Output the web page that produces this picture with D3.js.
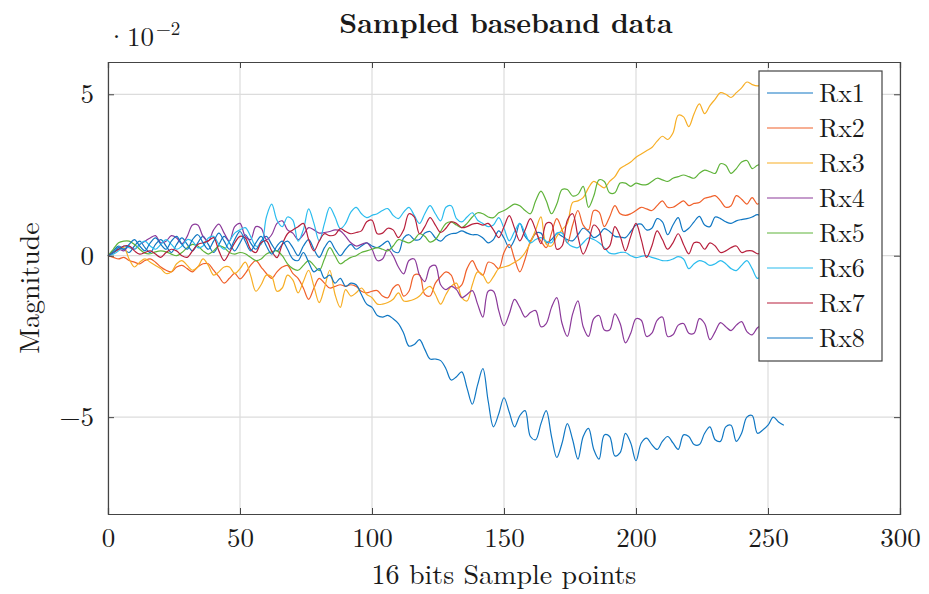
<!DOCTYPE html>
<html>
<head>
<meta charset="utf-8">
<script src="https://cdn.jsdelivr.net/npm/d3@7"></script>
<style>
  body { margin: 0; background: #fff; }
  text { font-family: "Latin Modern Roman", "CMU Serif", "Liberation Serif", serif; fill: #1a1a1a; }
</style>
</head>
<body>
<div id="chart"></div>
<script>
"use strict";

// === Data (values in units of 1e-2, one sample every 2 points) ===
const sampleIdx = d3.range(0, 257, 2);

const rx1 = [
  0, 0.15, 0.3, 0.2, 0.1, 0.3, 0.45, 0.25, 0.1, 0.35,
  0.5, 0.3, 0.1, 0.35, 0.55, 0.35, 0.15, 0.4, 0.6, 0.35,
  0.1, 0.35, 0.6, 0.4, 0.15, 0.4, 0.65, 0.4, 0.2, 0.45,
  0.6, 0.35, 0.15, 0.35, 0.45, 0.25, 0.0, 0.3, 0.5, 0.2,
  -0.05, 0.25, 0.45, 0.2, 0.0, 0.2, 0.35, 0.2, 0.3, 0.4,
  0.3, 0.25, 0.35, 0.45, 0.15, 0.1, 0.55, 0.65, 0.5, 0.5,
  0.7, 0.75, 0.55, 0.45, 0.6, 0.68, 0.7, 0.77, 0.7, 0.65,
  0.65, 0.55, 0.4, 0.5, 0.77, 0.55, 0.25, 0.5, 1.0, 0.6,
  0.45, 0.7, 0.7, 0.4, 0.5, 0.68, 0.6, 0.5, 0.46, 0.65,
  0.85, 0.75, 0.56, 0.65, 0.84, 0.75, 0.6, 0.58, 0.56, 0.75,
  0.95, 0.98, 0.8, 0.85, 1.15, 1.05, 0.65, 0.95, 1.18, 0.75,
  0.85, 1.05, 1.22, 0.95, 0.9, 1.2, 1.15, 1.05, 1.0, 1.08,
  1.12, 1.15, 1.2, 1.27, 1.2, 1.25, 1.3, 1.28, 1.3
];

const rx2 = [
  0, -0.05, -0.1, -0.05, -0.15, -0.2, -0.25, -0.15, -0.1, -0.2,
  -0.35, -0.45, -0.5, -0.35, -0.3, -0.4, -0.5, -0.35, -0.25, -0.25,
  -0.45, -0.65, -0.85, -0.7, -0.55, -0.72, -0.55, -0.3, -0.15, -0.35,
  -0.55, -0.7, -0.5, -0.35, -0.3, -0.55, -0.7, -1.0, -1.35, -1.0,
  -0.7, -0.85, -1.0, -0.95, -0.9, -0.95, -0.9, -0.95, -1.1, -1.15,
  -1.1, -1.08, -1.25, -1.3, -1.0, -0.9, -1.25, -1.1, -0.6, -0.6,
  -1.2, -1.25, -0.85, -0.65, -0.5, -0.6, -1.0, -0.9, -0.4, -0.15,
  -0.45, -0.6, -0.2, -0.25, -0.4, 0.1, 0.35, -0.1, -0.5, -0.1,
  0.45, 0.68, 0.45, 0.25, 0.7, 1.15, 0.8, 0.4, 0.95, 1.4,
  0.95, 0.8, 1.4, 1.35, 0.9, 1.2, 1.55, 1.3, 1.25, 1.3,
  1.4, 1.5, 1.45, 1.4, 1.55, 1.7, 1.5, 1.5, 1.6, 1.7,
  1.55, 1.62, 1.65, 1.78, 1.82, 1.86, 1.7, 1.5, 1.55, 1.86,
  1.75, 1.6, 1.8, 1.6, 1.7, 1.75, 1.7, 1.65, 1.7
];

const rx3 = [
  0, 0.1, 0.2, 0.25, -0.1, -0.35, -0.2, -0.1, -0.2, -0.3,
  -0.4, -0.55, -0.5, -0.25, -0.15, -0.3, -0.45, -0.35, -0.1, -0.3,
  -0.6, -0.5, -0.35, -0.35, -0.55, -0.4, -0.2, -0.6, -1.1, -0.9,
  -0.6, -0.65, -1.1, -1.0, -0.6, -0.75, -1.15, -0.8, -0.45, -0.95,
  -1.45, -1.0, -0.45, -1.2, -1.6, -1.05, -1.25, -1.15, -1.0, -1.2,
  -1.3, -1.5, -1.5, -1.45, -1.35, -1.15, -1.4, -1.4, -1.35, -1.25,
  -1.05, -0.95, -1.2, -1.5, -1.2, -0.95, -0.85, -1.3, -1.4, -0.9,
  -0.5, -0.6, -0.85, -0.65, -0.4, -0.35, -0.3, -0.2, -0.1, 0.1,
  0.4, 0.8, 1.2, 0.35, 0.3, 0.6, 0.8, 1.0, 1.65, 1.7,
  1.8, 2.1, 2.3, 2.2, 2.1, 2.3, 2.45, 2.7, 2.8, 2.9,
  3.05, 3.15, 3.25, 3.35, 3.55, 3.7, 3.6, 3.8, 4.35, 4.3,
  4.0, 4.4, 4.7, 4.4, 4.65, 4.85, 5.05, 5.0, 4.9, 5.05,
  5.2, 5.38, 5.3, 5.26, 5.3, 5.35, 5.4, 5.35, 5.4
];

const rx4 = [
  0, 0.1, 0.2, 0.15, 0.3, 0.2, 0.35, 0.45, 0.55, 0.62,
  0.4, 0.45, 0.62, 0.55, 0.37, 0.6, 0.95, 0.95, 0.6, 0.46,
  0.8, 0.98, 0.7, 0.46, 0.9, 1.0, 0.6, 0.5, 0.9, 0.85,
  0.5, 0.65, 1.0, 1.08, 0.8, 0.7, 0.5, 0.65, 0.87, 0.8,
  0.7, 0.72, 0.75, 0.8, 0.77, 0.6, 0.4, 0.3, 0.35, 0.4,
  0.2, -0.15, -0.1, 0.2, 0.0, -0.35, -0.56, -0.15, -0.1, -0.6,
  -0.8, -0.35, -0.3, -0.9, -1.05, -0.95, -1.05, -1.3, -1.2, -1.08,
  -1.5, -1.9, -1.1, -1.1, -1.7, -2.17, -1.8, -1.35, -1.6, -1.9,
  -1.76, -1.7, -2.2, -2.1, -1.6, -1.3, -2.1, -2.5, -1.8, -1.4,
  -2.2, -2.5, -1.95, -1.85, -2.3, -2.3, -1.8, -2.1, -2.7, -2.4,
  -1.95, -2.0, -2.5, -2.4, -2.0, -1.9, -2.5, -2.45, -2.15, -2.1,
  -2.4, -2.4, -1.95, -2.1, -2.6, -2.35, -2.07, -2.2, -2.32, -2.15,
  -2.04, -2.35, -2.45, -2.23, -2.15, -2.3, -2.35, -2.2, -2.2
];

const rx5 = [
  0, 0.2, 0.4, 0.45, 0.45, 0.35, 0.2, 0.08, 0.06, 0.12,
  0.15, 0.12, 0.05, 0.0, 0.1, 0.25, 0.35, 0.3, 0.15, 0.05,
  0.15, 0.3, 0.25, 0.1, 0.05, 0.1, 0.06, -0.05, -0.15, -0.1,
  0.05, 0.12, 0.15, 0.0, -0.25, -0.4, -0.45, -0.3, -0.15, -0.3,
  -0.46, -0.1, 0.25, 0.0, -0.25, -0.15, -0.05, 0.0, 0.1, 0.15,
  0.2, 0.25, 0.2, 0.15, 0.3, 0.5, 0.45, 0.4, 0.5, 0.68,
  0.6, 0.42, 0.5, 0.75, 1.0, 1.05, 0.95, 0.87, 1.0, 1.2,
  1.33, 1.3, 1.2, 1.18, 1.33, 1.4, 1.5, 1.6, 1.55, 1.4,
  1.3, 1.7, 2.0, 1.7, 1.3, 1.6, 2.05, 2.05, 1.85, 1.9,
  2.15, 1.5, 1.85, 2.35, 2.3, 1.95, 1.95, 2.25, 2.25, 2.15,
  2.25, 2.2, 2.2, 2.3, 2.4, 2.35, 2.3, 2.4, 2.45, 2.5,
  2.45, 2.4, 2.55, 2.65, 2.6, 2.55, 2.85, 2.8, 2.55, 2.7,
  2.9, 2.95, 2.7, 2.8, 2.85, 2.8, 2.75, 2.8, 2.8
];

const rx6 = [
  0, 0.05, 0.15, 0.3, 0.25, 0.2, 0.35, 0.45, 0.3, 0.2,
  0.35, 0.5, 0.35, 0.2, 0.3, 0.5, 0.45, 0.25, 0.3, 0.55,
  0.6, 0.35, 0.2, 0.45, 0.7, 0.8, 0.87, 0.6, 0.3, 0.35,
  1.2, 1.6, 1.1, 0.9, 1.2, 1.1, 0.45, 0.8, 1.45, 1.0,
  0.46, 1.0, 1.5, 1.2, 0.84, 1.0, 1.35, 1.5, 1.3, 1.18,
  1.25, 1.3, 1.4, 1.46, 1.25, 1.15, 1.35, 1.5, 1.25, 1.0,
  1.3, 1.55, 1.3, 1.08, 1.5, 1.55, 1.15, 1.05, 1.2, 1.33,
  1.1, 1.0, 0.9, 0.95, 1.18, 0.85, 0.46, 0.75, 1.0, 0.7,
  0.4, 0.5, 0.56, 0.45, 0.4, 0.7, 0.7, 0.4, 0.28, 0.25,
  0.4, 0.55, 0.5, 0.4, 0.25, 0.08, 0.06, 0.1, 0.1, 0.0,
  -0.06, -0.02, 0.0, -0.05, -0.1, -0.15, -0.15, -0.1, -0.03, -0.1,
  -0.4, -0.25, -0.15, -0.2, -0.3, -0.25, -0.15, -0.25, -0.4, -0.46,
  -0.3, -0.15, -0.4, -0.7, -0.6, -0.5, -0.55, -0.6, -0.6
];

const rx7 = [
  0, 0.1, 0.2, 0.3, 0.3, 0.15, 0.05, 0.1, 0.15, 0.05,
  -0.05, 0.1, 0.2, 0.15, 0.0, -0.05, 0.15, 0.35, 0.4, 0.46,
  0.56, 0.15, -0.15, 0.1, 0.4, 0.6, 0.55, 0.2, 0.1, 0.4,
  0.46, 0.15, -0.06, 0.35, 0.68, 0.8, 0.9, 1.0, 0.5, 0.15,
  0.45, 0.68, 0.62, 0.65, 0.84, 0.75, 0.68, 0.72, 0.77, 1.05,
  1.1, 0.68, 0.7, 0.85, 0.8, 0.56, 0.8, 1.3, 1.2, 0.68,
  0.9, 1.18, 0.95, 0.72, 0.85, 1.05, 1.0, 0.87, 0.9, 0.98,
  1.0, 0.95, 1.0, 0.8, 0.56, 0.9, 1.24, 0.85, 0.46, 0.8,
  1.15, 0.8, 0.37, 1.0, 1.0, 0.2, 0.3, 1.1, 1.3, 0.6,
  0.05, 0.4, 0.95, 0.8, 0.2, 0.3, 0.9, 0.6, 0.15, 0.6,
  1.0, 0.5, -0.05, 0.3, 0.77, 0.5, 0.2, 0.4, 0.68, 0.35,
  0.06, 0.4, 0.4, 0.2, 0.4, 0.3, 0.1, 0.15, 0.25, 0.3,
  0.1, 0.15, 0.15, 0.06, 0.1, 0.1, 0.05, 0.1, 0.1
];

const rx8 = [
  0, 0.1, 0.25, 0.2, 0.35, 0.5, 0.3, 0.15, 0.4, 0.55,
  0.35, 0.2, 0.45, 0.6, 0.35, 0.2, 0.5, 0.65, 0.4, 0.2,
  0.45, 0.7, 0.45, 0.2, 0.5, 0.75, 0.45, 0.15, 0.4, 0.6,
  0.3, 0.05, 0.3, 0.45, 0.2, -0.1, -0.15, 0.1, -0.2, -0.5,
  -0.4, -0.7, -0.6, -0.85, -0.7, -0.95, -0.85, -0.9, -1.2, -1.5,
  -1.6, -1.85, -1.9, -1.85, -1.95, -2.1, -2.4, -2.8, -2.75, -2.6,
  -2.9, -3.2, -3.2, -3.25, -3.5, -3.85, -3.75, -3.6, -4.1, -4.6,
  -4.0, -3.5, -4.5, -5.3, -4.9, -4.4, -4.85, -5.3, -4.95, -4.8,
  -5.6, -5.7, -5.2, -4.8, -5.6, -6.25, -5.8, -5.2, -5.7, -6.3,
  -5.6, -5.35, -6.0, -6.3, -5.55, -5.6, -6.2, -6.1, -5.5, -5.8,
  -6.35, -5.8, -5.65, -5.85, -6.0, -5.75, -5.6, -5.8, -6.0, -5.55,
  -5.6, -5.85, -5.85, -5.5, -5.3, -5.7, -5.75, -5.3, -5.25, -5.75,
  -5.5, -5.0, -4.95, -5.5, -5.4, -5.25, -5.0, -5.15, -5.25
];

const seriesNames = ["Rx1", "Rx2", "Rx3", "Rx4", "Rx5", "Rx6", "Rx7", "Rx8"];
const seriesValues = [rx1, rx2, rx3, rx4, rx5, rx6, rx7, rx8];
const seriesColors = ["#1077c3", "#f0602a", "#f7ae25", "#8b3a9a", "#5fb33a", "#2bbcee", "#b71f3c", "#1077c3"];

const xTicks = [0, 50, 100, 150, 200, 250, 300];
const yTicks = [-5, 0, 5];

// === SVG setup ===
const width = 929, height = 594;
const margin = { top: 62, right: 29, bottom: 80, left: 108 };

const svg = d3.select("#chart")
  .append("svg")
  .attr("width", width)
  .attr("height", height);

// === Scales ===
const x = d3.scaleLinear()
  .domain([0, 300])
  .range([margin.left, width - margin.right]);

const y = d3.scaleLinear()
  .domain([-8, 6])
  .range([height - margin.bottom, margin.top]);

// === Grid ===
svg.append("g")
  .selectAll("line")
  .data(xTicks)
  .join("line")
  .attr("x1", d => x(d)).attr("x2", d => x(d))
  .attr("y1", y(-8)).attr("y2", y(6))
  .attr("stroke", "#dcdcdc")
  .attr("stroke-width", 1.2);

svg.append("g")
  .selectAll("line")
  .data(yTicks)
  .join("line")
  .attr("x1", x(0)).attr("x2", x(300))
  .attr("y1", d => y(d)).attr("y2", d => y(d))
  .attr("stroke", "#dcdcdc")
  .attr("stroke-width", 1.2);

// === Lines ===
const line = d3.line()
  .x((d, i) => x(sampleIdx[i]))
  .y(d => y(d))
  .curve(d3.curveCatmullRom.alpha(0.5));

svg.append("g")
  .selectAll("path")
  .data(seriesValues)
  .join("path")
  .attr("d", d => line(d))
  .attr("fill", "none")
  .attr("stroke", (d, i) => seriesColors[i])
  .attr("stroke-width", 1.2)
  .attr("stroke-linejoin", "round");

// === Axes (box with inward ticks) ===
const tickLen = 6;
const axisColor = "#444";

const axisB = svg.append("g")
  .attr("transform", `translate(0, ${y(-8)})`)
  .call(d3.axisBottom(x).tickValues(xTicks).tickSize(-tickLen).tickPadding(14));
const axisT = svg.append("g")
  .attr("transform", `translate(0, ${y(6)})`)
  .call(d3.axisTop(x).tickValues(xTicks).tickSize(-tickLen).tickFormat(""));
const axisL = svg.append("g")
  .attr("transform", `translate(${x(0)}, 0)`)
  .call(d3.axisLeft(y).tickValues(yTicks).tickSize(-tickLen).tickPadding(14)
    .tickFormat(d => d < 0 ? "\u2212" + Math.abs(d) : d));
const axisR = svg.append("g")
  .attr("transform", `translate(${x(300)}, 0)`)
  .call(d3.axisRight(y).tickValues(yTicks).tickSize(-tickLen).tickFormat(""));

[axisB, axisT, axisL, axisR].forEach(g => {
  g.select(".domain").attr("stroke", axisColor).attr("stroke-width", 1.2);
  g.selectAll(".tick line").attr("stroke", axisColor).attr("stroke-width", 1);
  g.selectAll(".tick text")
    .attr("font-family", "'Latin Modern Roman', 'Liberation Serif', serif")
    .attr("font-size", 27)
    .attr("fill", "#1a1a1a");
});

// === Multiplier (·10^-2), title, labels ===
svg.append("text")
  .attr("x", 127)
  .attr("y", 46)
  .attr("text-anchor", "end")
  .attr("font-size", 27)
  .text("\u00b7");
const mult = svg.append("text")
  .attr("x", 127)
  .attr("y", 46)
  .attr("font-size", 27)
  .text("10");
mult.append("tspan")
  .attr("dx", 2)
  .attr("dy", -11)
  .attr("font-size", 19)
  .text("\u22122");

svg.append("text")
  .attr("x", (x(0) + x(300)) / 2 + 2)
  .attr("y", 33)
  .attr("text-anchor", "middle")
  .attr("font-size", 28)
  .attr("font-weight", "bold")
  .text("Sampled baseband data");

svg.append("text")
  .attr("x", (x(0) + x(300)) / 2)
  .attr("y", 584)
  .attr("text-anchor", "middle")
  .attr("font-size", 28)
  .text("16 bits Sample points");

svg.append("text")
  .attr("transform", "rotate(-90)")
  .attr("x", -(y(-8) + y(6)) / 2)
  .attr("y", 39)
  .attr("text-anchor", "middle")
  .attr("font-size", 28)
  .text("Magnitude");

// === Legend ===
const legend = svg.append("g").attr("transform", "translate(759, 71)");
legend.append("rect")
  .attr("width", 123)
  .attr("height", 290)
  .attr("fill", "#fff")
  .attr("stroke", "#444")
  .attr("stroke-width", 1.2);

seriesNames.forEach((name, i) => {
  const ly = 22 + i * 35;
  legend.append("line")
    .attr("x1", 8).attr("x2", 54)
    .attr("y1", ly).attr("y2", ly)
    .attr("stroke", seriesColors[i])
    .attr("stroke-width", 1.2);
  legend.append("text")
    .attr("x", 60)
    .attr("y", ly + 9)
    .attr("font-size", 26)
    .text(name);
});
</script>
</body>
</html>
